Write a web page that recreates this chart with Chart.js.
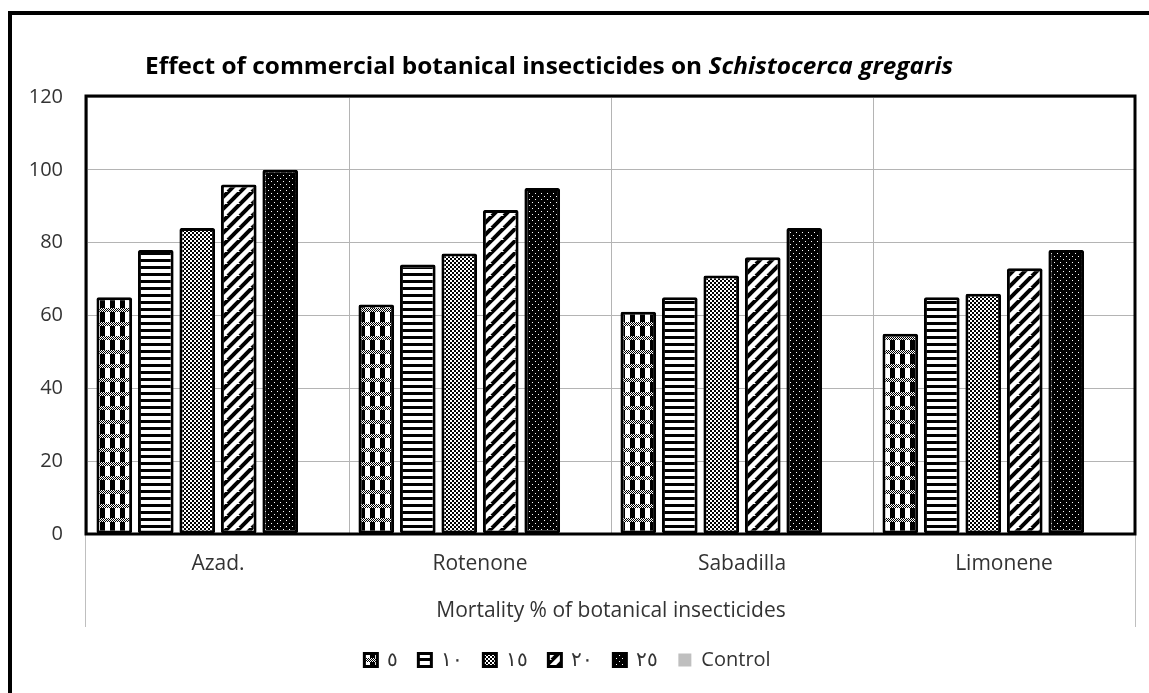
<!DOCTYPE html>
<html>
<head>
<meta charset="utf-8">
<script src="https://cdn.jsdelivr.net/npm/chart.js@4.4.1/dist/chart.umd.min.js"></script>
<style>
  html, body { margin: 0; padding: 0; background: #fff; overflow: hidden; }
  #wrap { position: relative; width: 1149px; height: 693px; }
  #frame { position: absolute; left: 8px; top: 11px; width: 1300px; height: 900px; border: 4px solid #000; box-sizing: border-box; }
  #title { position: absolute; left: 145px; top: 49px; font: bold 23px "Open Sans", sans-serif; color: #000; white-space: nowrap; transform-origin: 0 0; }
  #c { position: absolute; left: 0; top: 0; }
</style>
</head>
<body>
<div id="wrap">
  <div id="frame"></div>
  <canvas id="c" width="1149" height="693"></canvas>
  <div id="title">Effect of commercial botanical insecticides on <i>Schistocerca gregaris</i></div>
</div>
<script>
// data
const categories = ['Azad.', 'Rotenone', 'Sabadilla', 'Limonene'];
const seriesNames = ['٥', '١٠', '١٥', '٢٠', '٢٥', 'Control'];
const dose5  = [65, 63, 61, 55];
const dose10 = [78, 74, 65, 65];
const dose15 = [84, 77, 71, 66];
const dose20 = [96, 89, 76, 73];
const dose25 = [100, 95, 84, 78];
const control = [null, null, null, null];
const yTicks = [0, 20, 40, 60, 80, 100, 120];

// stretch title to the reference width
const titleEl = document.getElementById('title');
titleEl.style.transform = 'scaleX(' + (808 / titleEl.offsetWidth) + ')';

// fill patterns
function tile(w, h, draw) {
  const c = document.createElement('canvas');
  c.width = w; c.height = h;
  const g = c.getContext('2d');
  g.fillStyle = '#fff';
  g.fillRect(0, 0, w, h);
  g.fillStyle = '#000';
  draw(g);
  return document.getElementById('c').getContext('2d').createPattern(c, 'repeat');
}

const patterns = [
  // plaid
  tile(10, 14, g => {
    for (let x = 0; x < 10; x++) for (let y = 0; y < 4; y++) if ((x + y) % 2 === 0) g.fillRect(x, y, 1, 1);
    g.fillRect(0, 4, 5, 10);
  }),
  // horizontal lines
  tile(8, 7, g => { g.fillRect(0, 0, 8, 3); }),
  // small checker
  tile(4, 4, g => { g.fillRect(0, 0, 2, 2); g.fillRect(2, 2, 2, 2); }),
  // wide upward diagonal
  tile(12, 12, g => {
    g.strokeStyle = '#000';
    g.lineWidth = 4;
    for (let k = -12; k <= 24; k += 12) {
      g.beginPath(); g.moveTo(k - 12, 12); g.lineTo(k + 12, -12); g.stroke();
    }
  }),
  // black with white dots
  tile(6, 6, g => {
    g.fillRect(0, 0, 6, 6);
    g.fillStyle = '#fff';
    g.fillRect(1, 1, 1, 1); g.fillRect(4, 4, 1, 1);
  })
];

const values = [dose5, dose10, dose15, dose20, dose25, control];

const datasets = values.map((v, i) => ({
  label: seriesNames[i],
  data: v,
  backgroundColor: i < 5 ? patterns[i] : '#bfbfbf',
  borderColor: '#000',
  borderWidth: i < 5 ? 3 : 0,
  borderRadius: 2,
  borderSkipped: false,
  categoryPercentage: 0.95,
  barPercentage: 0.86
}));

// plot border + multi-level separators
const framePlugin = {
  id: 'frame',
  afterDraw(chart) {
    const { ctx, chartArea: a } = chart;
    ctx.save();
    ctx.strokeStyle = '#bfbfbf';
    ctx.lineWidth = 1;
    ctx.beginPath();
    ctx.moveTo(a.left - 1.5, a.bottom); ctx.lineTo(a.left - 1.5, a.bottom + 93);
    ctx.moveTo(a.right + 0.5, a.bottom); ctx.lineTo(a.right + 0.5, a.bottom + 93);
    ctx.stroke();
    ctx.strokeStyle = '#000';
    ctx.lineWidth = 3;
    ctx.strokeRect(a.left - 1, a.top - 1, a.right - a.left + 1, a.bottom - a.top + 1);
    ctx.restore();
  }
};

Chart.defaults.font.family = '"Open Sans", sans-serif';
Chart.defaults.color = '#333';

new Chart(document.getElementById('c'), {
  type: 'bar',
  data: { labels: categories, datasets: datasets },
  options: {
    responsive: false,
    animation: false,
    layout: { padding: { left: 0, right: 14, top: 97, bottom: 13 } },
    plugins: {
      legend: {
        position: 'bottom',
        labels: {
          boxWidth: 13,
          boxHeight: 13,
          padding: 20,
          color: '#333',
          font: { size: 20 }
        }
      },
      tooltip: { enabled: false }
    },
    scales: {
      x: {
        grid: { color: '#b4b4b4', drawTicks: false, offset: true },
        border: { display: false },
        ticks: { padding: 17, font: { size: 21 }, color: '#333' },
        title: {
          display: true,
          text: 'Mortality % of botanical insecticides',
          font: { size: 21 },
          color: '#333',
          padding: { top: 0, bottom: 6 }
        },
        afterFit(scale) { scale.height = 96; }
      },
      y: {
        min: 0,
        max: 120,
        grid: { color: '#b4b4b4', drawTicks: false },
        border: { display: false },
        afterBuildTicks(scale) { scale.ticks = yTicks.map(v => ({ value: v })); },
        ticks: { padding: 24, font: { size: 20 }, color: '#333' },
        afterFit(scale) { scale.width = 87; }
      }
    }
  },
  plugins: [framePlugin]
});
</script>
</body>
</html>
